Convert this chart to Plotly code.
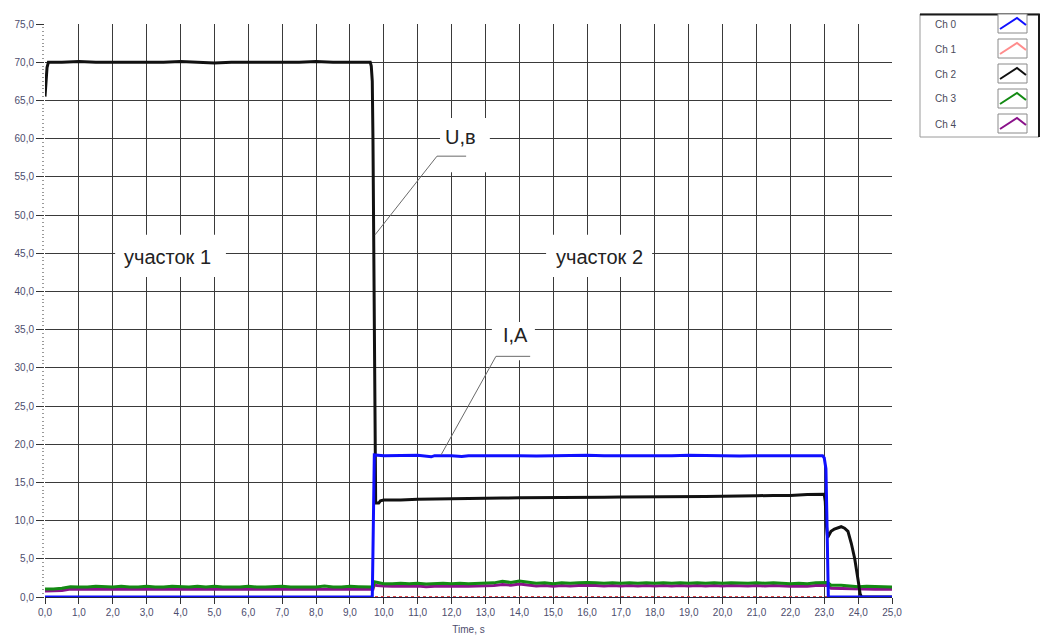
import plotly.graph_objects as go

# ---------------------------------------------------------------
# Recorded channels, time in seconds
# ---------------------------------------------------------------

# Ch 0 - current, A
t_ch0 = [0.0, 9.5, 9.66, 9.68, 9.7, 9.72, 10.0, 10.5, 11.0, 11.4, 11.5, 12.0, 12.3, 12.5,
         13.0, 13.5, 14.0, 14.5, 15.0, 15.5, 16.0, 16.5, 17.0, 17.5, 18.0, 18.5, 19.0,
         19.5, 20.0, 20.5, 21.0, 21.5, 22.0, 22.5, 22.95, 23.0, 23.05, 23.08, 23.1, 23.12,
         24.0, 25.0]
ch0 = [0.0, 0.0, 0.0, 6.0, 15.0, 18.6, 18.5, 18.5, 18.55, 18.35, 18.5, 18.5, 18.4, 18.5,
       18.5, 18.55, 18.5, 18.45, 18.5, 18.5, 18.55, 18.5, 18.5, 18.45, 18.5, 18.5, 18.55,
       18.5, 18.5, 18.45, 18.5, 18.5, 18.5, 18.45, 18.5, 18.2, 16.8, 10.0, 3.0, 0.0,
       0.0, 0.0]

# Ch 1 - spare channel, stays at zero
t_ch1 = [0.0, 25.0]
ch1 = [0.0, 0.0]

# Ch 2 - voltage, V
t_ch2 = [0.0, 0.03, 0.06, 0.1, 0.5, 1.0, 1.5, 2.0, 2.5, 3.0, 3.5, 4.0, 4.5, 5.0, 5.5,
         6.0, 6.5, 7.0, 7.5, 8.0, 8.5, 9.0, 9.5, 9.6, 9.63, 9.66, 9.68, 9.7, 9.72, 9.74,
         9.76, 9.85, 9.9, 10.0, 10.5, 11.0, 11.5, 12.0, 12.5, 13.0, 13.5, 14.0, 14.5,
         15.0, 15.5, 16.0, 16.5, 17.0, 17.5, 18.0, 18.5, 19.0, 19.5, 20.0, 20.5, 21.0,
         21.5, 22.0, 22.5, 22.9, 23.0, 23.03, 23.06, 23.1, 23.15, 23.2, 23.3, 23.4, 23.5,
         23.6, 23.7, 23.8, 23.9, 24.0, 24.06, 24.1, 24.5, 25.0]
ch2 = [65.5, 67.5, 69.3, 70.0, 70.0, 70.1, 70.0, 70.0, 70.0, 70.0, 70.0, 70.1, 70.0, 69.9,
       70.0, 70.0, 70.0, 70.0, 70.0, 70.1, 70.0, 70.0, 70.0, 70.0, 69.5, 67.5, 60.0, 50.0,
       35.0, 20.0, 12.3, 12.3, 12.6, 12.7, 12.7, 12.8, 12.8, 12.85, 12.9, 12.9, 12.95,
       13.0, 13.0, 13.0, 13.0, 13.05, 13.05, 13.1, 13.1, 13.1, 13.1, 13.15, 13.15, 13.2,
       13.2, 13.25, 13.3, 13.3, 13.4, 13.5, 13.45, 12.5, 9.5, 7.8, 8.2, 8.6, 8.9, 9.1,
       9.2, 9.0, 8.6, 7.0, 5.0, 2.2, 0.4, 0.0, 0.0, 0.0]

# Ch 3 and Ch 4 - auxiliary signals
t_aux = [0.0, 0.25, 0.5, 0.75, 1.0, 1.25, 1.5, 1.75, 2.0, 2.25, 2.5, 2.75, 3.0, 3.25, 3.5,
         3.75, 4.0, 4.25, 4.5, 4.75, 5.0, 5.25, 5.5, 5.75, 6.0, 6.25, 6.5, 6.75, 7.0, 7.25,
         7.5, 7.75, 8.0, 8.25, 8.5, 8.75, 9.0, 9.25, 9.5, 9.68, 9.72, 9.8, 10.0, 10.25,
         10.5, 10.75, 11.0, 11.25, 11.5, 11.75, 12.0, 12.25, 12.5, 12.75, 13.0, 13.25,
         13.5, 13.75, 14.0, 14.25, 14.5, 14.75, 15.0, 15.25, 15.5, 15.75, 16.0, 16.25,
         16.5, 16.75, 17.0, 17.25, 17.5, 17.75, 18.0, 18.25, 18.5, 18.75, 19.0, 19.25,
         19.5, 19.75, 20.0, 20.25, 20.5, 20.75, 21.0, 21.25, 21.5, 21.75, 22.0, 22.25,
         22.5, 22.75, 23.0, 23.1, 23.2, 23.5, 23.75, 24.0, 24.25, 24.5, 24.75, 25.0]
ch3 = [1.05, 1.05, 1.15, 1.35, 1.3, 1.3, 1.4, 1.35, 1.3, 1.4, 1.3, 1.3, 1.4, 1.3, 1.3,
       1.4, 1.35, 1.3, 1.4, 1.3, 1.4, 1.3, 1.3, 1.3, 1.4, 1.3, 1.3, 1.35, 1.4, 1.3,
       1.3, 1.35, 1.3, 1.45, 1.3, 1.3, 1.4, 1.35, 1.3, 1.3, 2.0, 1.9, 1.75, 1.75,
       1.8, 1.75, 1.8, 1.7, 1.75, 1.8, 1.75, 1.8, 1.75, 1.8, 1.8, 1.85,
       2.05, 1.9, 2.1, 1.9, 1.8, 1.85, 1.75, 1.85, 1.8, 1.85, 1.9, 1.85,
       1.8, 1.85, 1.8, 1.85, 1.8, 1.85, 1.8, 1.85, 1.8, 1.85, 1.8, 1.85,
       1.8, 1.85, 1.8, 1.85, 1.8, 1.8, 1.85, 1.8, 1.85, 1.8, 1.75, 1.8,
       1.75, 1.85, 1.9, 1.9, 1.55, 1.55, 1.45, 1.35, 1.4, 1.35, 1.35, 1.3]
ch4 = [0.8, 0.8, 0.85, 1.05, 1.05, 1.0, 1.05, 1.05, 1.0, 1.05, 1.0, 1.05, 1.05, 1.0, 1.0,
       1.05, 1.05, 1.0, 1.05, 1.0, 1.05, 1.0, 1.05, 1.0, 1.05, 1.0, 1.0, 1.05, 1.05, 1.0,
       1.0, 1.05, 1.0, 1.05, 1.0, 1.0, 1.05, 1.05, 1.0, 1.0, 1.6, 1.5, 1.45, 1.4,
       1.45, 1.4, 1.45, 1.35, 1.4, 1.45, 1.4, 1.45, 1.4, 1.45, 1.45, 1.5,
       1.65, 1.55, 1.7, 1.55, 1.45, 1.5, 1.4, 1.5, 1.45, 1.5, 1.55, 1.5,
       1.45, 1.5, 1.45, 1.5, 1.45, 1.5, 1.45, 1.5, 1.45, 1.5, 1.45, 1.5,
       1.45, 1.5, 1.45, 1.5, 1.45, 1.45, 1.5, 1.45, 1.5, 1.45, 1.4, 1.45,
       1.4, 1.5, 1.55, 1.55, 1.15, 1.1, 1.05, 1.0, 1.0, 1.0, 1.0, 1.0]

channel_names = ["Ch 0", "Ch 1", "Ch 2", "Ch 3", "Ch 4"]
channel_colors = ["#1010ff", "#ff8c8c", "#111111", "#138a13", "#8a128a"]

x_ticks = [i * 1.0 for i in range(26)]
y_ticks = [i * 5.0 for i in range(16)]

# ---------------------------------------------------------------
fig = go.Figure()

# drawing order: Ch 1, Ch 4, Ch 3, Ch 0, Ch 2
fig.add_trace(go.Scatter(x=t_ch1, y=ch1, mode="lines", name=channel_names[1],
                         line=dict(color="#e04848", width=2, dash="dot")))
fig.add_trace(go.Scatter(x=t_aux, y=ch4, mode="lines", name=channel_names[4],
                         line=dict(color=channel_colors[4], width=3)))
fig.add_trace(go.Scatter(x=t_aux, y=ch3, mode="lines", name=channel_names[3],
                         line=dict(color=channel_colors[3], width=3)))
fig.add_trace(go.Scatter(x=t_ch2, y=ch2, mode="lines", name=channel_names[2],
                         line=dict(color=channel_colors[2], width=3)))
fig.add_trace(go.Scatter(x=t_ch0, y=ch0, mode="lines", name=channel_names[0],
                         line=dict(color=channel_colors[0], width=3)))

# plot area in page pixels
L, R, T, B = 45, 892, 24, 597
W, H = 1043, 636


def px(xp):
    return (xp - L) / (R - L)


def py(yp):
    return (B - yp) / (B - T)


shapes = []
annotations = []

# white label boxes over the grid (data coordinates)
label_boxes = [
    (2.07, 5.34, 41.9, 47.4),
    (14.79, 17.92, 41.9, 47.4),
    (11.66, 13.13, 55.6, 62.7),
    (13.19, 14.46, 31.0, 36.0),
]
for x0, x1, y0, y1 in label_boxes:
    shapes.append(dict(type="rect", xref="x", yref="y", x0=x0, x1=x1, y0=y0, y1=y1,
                       fillcolor="white", line=dict(width=0), layer="above"))

# leader lines
shapes.append(dict(type="path", xref="x", yref="y", layer="above",
                   path="M 12.43,57.7 L 11.57,57.7 L 9.74,47.4",
                   line=dict(color="#6a6a6a", width=1)))
shapes.append(dict(type="path", xref="x", yref="y", layer="above",
                   path="M 14.32,31.5 L 13.31,31.5 L 11.69,18.6",
                   line=dict(color="#6a6a6a", width=1)))

label_font = dict(family="Liberation Sans, Arial, sans-serif", size=20, color="#222222")
for text, xv, yv in [("участок 1", 3.62, 44.5), ("участок 2", 16.38, 44.5),
                     ("U,в", 12.25, 60.2), ("I,A", 13.9, 34.3)]:
    annotations.append(dict(text=text, x=xv, y=yv, xref="x", yref="y", showarrow=False,
                            font=label_font, xanchor="center", yanchor="middle"))

# channel key at the top right
shapes.append(dict(type="rect", xref="paper", yref="paper", x0=px(920), x1=px(1039),
                   y0=py(137), y1=py(14), fillcolor="white",
                   line=dict(color="#9a9a9a", width=1)))
shapes.append(dict(type="path", xref="paper", yref="paper",
                   path=f"M {px(920)},{py(14.5)} L {px(1039)},{py(14.5)} L {px(1039)},{py(137)}",
                   line=dict(color="#1a1a1a", width=2)))
for i, (name, col) in enumerate(zip(channel_names, channel_colors)):
    cy = 24 + 25 * i
    annotations.append(dict(text=name, x=px(933), y=py(cy), xref="paper", yref="paper",
                            showarrow=False, xanchor="left", yanchor="middle",
                            font=dict(family="Liberation Sans, Arial, sans-serif", size=10,
                                      color="#4a4a5a")))
    shapes.append(dict(type="rect", xref="paper", yref="paper",
                       x0=px(998), x1=px(1027), y0=py(cy + 9), y1=py(cy - 10),
                       fillcolor="white", line=dict(color="#8a8a8a", width=1)))
    shapes.append(dict(type="path", xref="paper", yref="paper",
                       path=(f"M {px(1000)},{py(cy + 5)} L {px(1017)},{py(cy - 6)} "
                             f"L {px(1026)},{py(cy + 1)}"),
                       line=dict(color=col, width=2)))

tick_font = dict(family="Liberation Sans, Arial, sans-serif", size=10, color="#4d4d6d")

fig.update_layout(
    width=W, height=H,
    margin=dict(l=L, r=W - R, t=T, b=H - B),
    paper_bgcolor="white",
    plot_bgcolor="white",
    showlegend=False,
    separators=", ",
    shapes=shapes,
    annotations=annotations,
    xaxis=dict(
        range=[0, 25], tickmode="array", tickvals=x_ticks, tickformat=".1f",
        showgrid=True, gridcolor="#3a3a3a", gridwidth=1.2,
        zeroline=False, showline=True, linecolor="#202040", linewidth=1,
        ticks="outside", ticklen=6, tickcolor="#333333", tickfont=tick_font,
        title=dict(text="Time, s", font=tick_font, standoff=8),
        automargin=False,
    ),
    yaxis=dict(
        range=[0, 75], tickmode="array", tickvals=y_ticks, tickformat=".1f",
        showgrid=True, gridcolor="#3a3a3a", gridwidth=1.2,
        zeroline=False, showline=False,
        ticks="outside", ticklen=8, tickcolor="#333333", tickfont=tick_font,
        minor=dict(dtick=0.5, ticks="outside", ticklen=2, tickcolor="#9a9a9a",
                   showgrid=False),
        automargin=False,
    ),
)

fig.write_html("out.html")
